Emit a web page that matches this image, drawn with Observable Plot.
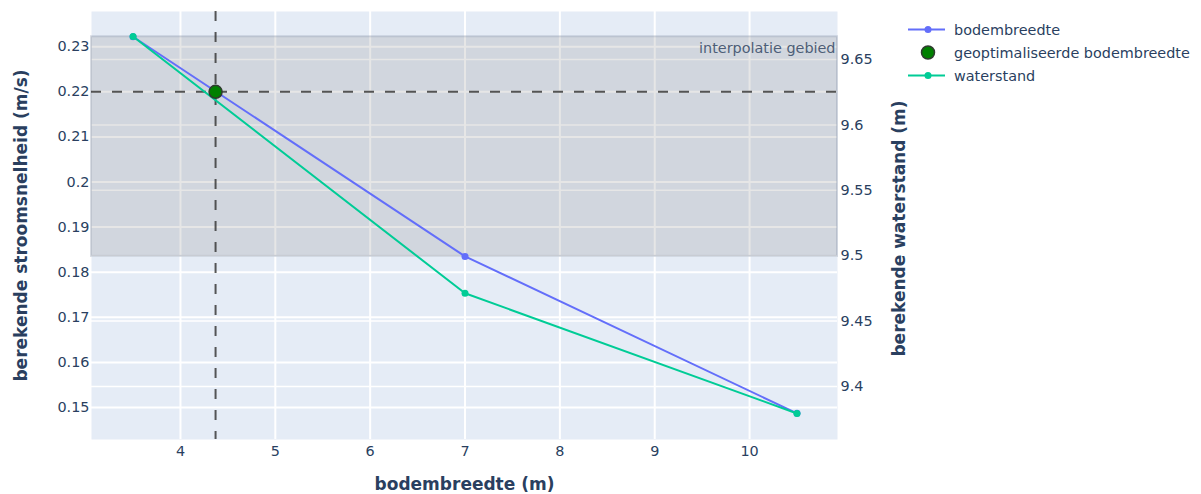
<!DOCTYPE html>
<html>
<head>
<meta charset="utf-8">
<script src="https://cdn.jsdelivr.net/npm/d3@7"></script>
<script src="https://cdn.jsdelivr.net/npm/@observablehq/plot@0.6"></script>
<style>
  body { margin: 0; background: #fff; font-family: Verdana, "DejaVu Sans", sans-serif; }
  #chart { position: relative; width: 1201px; height: 494px; }
  #legend { position: absolute; left: 905px; top: 18px; font-size: 14.4px; color: #2a3f5f; }
  .row { display: flex; align-items: center; height: 23px; }
  .row span { margin-left: 5px; white-space: nowrap; }
</style>
</head>
<body>
<div id="chart"><div id="legend"></div></div>
<script>
// ---- data ----
const bodembreedte = [3.5, 7, 10.5];
const stroomsnelheid = [0.2322, 0.1835, 0.1487];
const waterstand = [9.6676, 9.4713, 9.3794];
const optBodembreedte = [4.37];
const optStroomsnelheid = [0.22];
const interpolatieGebied = [0.1835, 0.2322];   // lower, upper stroomsnelheid
const xTicks = [4, 5, 6, 7, 8, 9, 10];
const yTicks = [0.15, 0.16, 0.17, 0.18, 0.19, 0.2, 0.21, 0.22, 0.23];
const y2Ticks = [9.4, 9.45, 9.5, 9.55, 9.6, 9.65];
const seriesNames = ["bodembreedte", "geoptimaliseerde bodembreedte", "waterstand"];
const seriesColors = ["#636efa", "#008000", "#00cc96"];

// ---- scales ----
const xDomain = [3.062, 10.927];
const yDomain = [0.1429, 0.2378];
const y2Domain = [9.3595, 9.6867];
const toY = d3.scaleLinear().domain(y2Domain).range(yDomain);

const rows1 = bodembreedte.map((b, i) => ({x: b, y: stroomsnelheid[i]}));
const rows2 = bodembreedte.map((b, i) => ({x: b, y: toY(waterstand[i])}));
const opt = optBodembreedte.map((b, i) => ({x: b, y: optStroomsnelheid[i]}));
const band = [{lo: interpolatieGebied[0], hi: interpolatieGebied[1]}];

const dash = "10,11";
const fs = 14.4;
const chart = Plot.plot({
  width: 1201,
  height: 494,
  marginLeft: 91,
  marginRight: 364,
  marginTop: 11,
  marginBottom: 55,
  x: {domain: xDomain},
  y: {domain: yDomain},
  style: {fontFamily: "Verdana, 'DejaVu Sans', sans-serif", fontSize: fs + "px", color: "#2a3f5f", background: "white", overflow: "visible"},
  marks: [
    Plot.frame({fill: "#e5ecf6", stroke: null}),
    Plot.gridX(xTicks, {stroke: "white", strokeOpacity: 1, strokeWidth: 2}),
    Plot.gridY(y2Ticks.map(toY), {stroke: "white", strokeOpacity: 1, strokeWidth: 1.5}),
    Plot.gridY(yTicks, {stroke: "white", strokeOpacity: 1, strokeWidth: 2}),
    Plot.rect(band, {y1: "lo", y2: "hi", fill: "gray", fillOpacity: 0.2, stroke: "#7d8ba3", strokeOpacity: 0.3, strokeWidth: 2}),
    Plot.text(band, {y: "hi", text: () => "interpolatie gebied", frameAnchor: "right", textAnchor: "end", dx: -2, dy: 12, fill: "#4d5e78", fontSize: fs}),
    Plot.ruleX(optBodembreedte, {stroke: "#3a3a3a", strokeOpacity: 0.85, strokeWidth: 2, strokeDasharray: dash}),
    Plot.ruleY(optStroomsnelheid, {stroke: "#3a3a3a", strokeOpacity: 0.85, strokeWidth: 2, strokeDasharray: dash}),
    Plot.line(rows1, {x: "x", y: "y", stroke: seriesColors[0], strokeWidth: 2}),
    Plot.dot(rows1, {x: "x", y: "y", fill: seriesColors[0], r: 3.5}),
    Plot.line(rows2, {x: "x", y: "y", stroke: seriesColors[2], strokeWidth: 2}),
    Plot.dot(rows2, {x: "x", y: "y", fill: seriesColors[2], r: 3.5}),
    Plot.dot(opt, {x: "x", y: "y", fill: seriesColors[1], stroke: "#2f3b2f", strokeWidth: 1.5, r: 6.5}),
    Plot.axisX(xTicks, {tickSize: 0, tickPadding: 6, label: null, fontSize: fs}),
    Plot.axisY(yTicks, {anchor: "left", tickSize: 0, tickPadding: 2, label: null, fontSize: fs, tickFormat: d => String(+d.toFixed(2))}),
    Plot.axisY(y2Ticks.map(toY), {anchor: "right", tickSize: 0, tickPadding: 3, label: null, fontSize: fs, tickFormat: d => String(+toY.invert(d).toFixed(2))}),
    Plot.text(["bodembreedte (m)"], {frameAnchor: "bottom", textAnchor: "middle", lineAnchor: "middle", dy: 45, fontWeight: "bold", fontSize: 17}),
    Plot.text(["berekende stroomsnelheid (m/s)"], {frameAnchor: "left", textAnchor: "middle", lineAnchor: "middle", dx: -70, rotate: -90, fontWeight: "bold", fontSize: 17}),
    Plot.text(["berekende waterstand (m)"], {frameAnchor: "right", textAnchor: "middle", lineAnchor: "middle", dx: 62, dy: 3, rotate: -90, fontWeight: "bold", fontSize: 17})
  ]
});
document.getElementById("chart").prepend(chart);

// ---- legend ----
const legend = d3.select("#legend");
seriesNames.forEach((name, i) => {
  const row = legend.append("div").attr("class", "row");
  const svg = row.append("svg").attr("width", 44).attr("height", 23);
  if (i === 1) {
    svg.append("circle").attr("cx", 23).attr("cy", 11.5).attr("r", 6.5)
      .attr("fill", seriesColors[i]).attr("stroke", "#2f3b2f").attr("stroke-width", 1.5);
  } else {
    svg.append("line").attr("x1", 3).attr("x2", 40).attr("y1", 11.5).attr("y2", 11.5)
      .attr("stroke", seriesColors[i]).attr("stroke-width", 2);
    svg.append("circle").attr("cx", 23).attr("cy", 11.5).attr("r", 3.5).attr("fill", seriesColors[i]);
  }
  row.append("span").text(name);
});
</script>
</body>
</html>
